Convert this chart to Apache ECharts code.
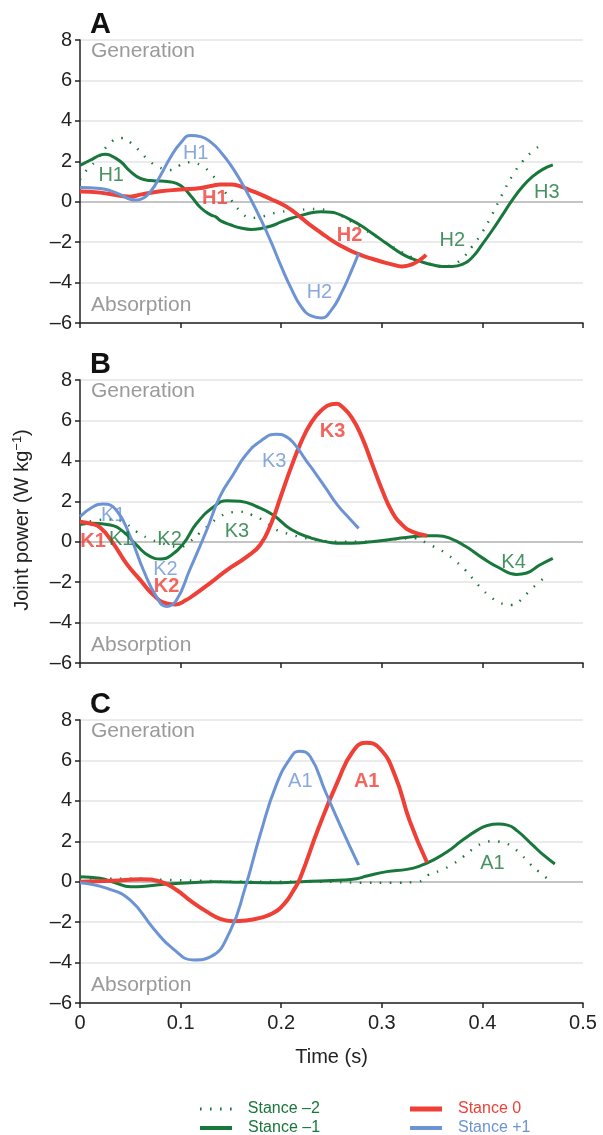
<!DOCTYPE html>
<html>
<head>
<meta charset="utf-8">
<script src="https://cdn.jsdelivr.net/npm/echarts@6/dist/echarts.min.js"></script>
<style>html,body{margin:0;padding:0;background:#fff}#c{width:603px;height:1135px}</style>
</head>
<body>
<div id="c"></div>
<script>
// ---- Data (time s, joint power W/kg) ----
const seriesNames = ['Stance \u20132', 'Stance \u20131', 'Stance 0', 'Stance +1'];
const yTicks = [-6, -4, -2, 0, 2, 4, 6, 8];
const xTicks = [0, 0.1, 0.2, 0.3, 0.4, 0.5];

// Panel A (hip)
const hipM2 = [[0,1.1],[0.0067,1.57],[0.015,1.98],[0.0315,2.97],[0.041,3.15],[0.051,2.9],[0.06,2.47],[0.068,2.06],[0.078,1.72],[0.089,1.57],[0.099,1.8],[0.11,1.95],[0.12,1.8],[0.13,1.4],[0.14,0.75],[0.15,0.1],[0.16,-0.5],[0.17,-0.8],[0.18,-0.75],[0.19,-0.6],[0.2,-0.5],[0.21,-0.45],[0.22,-0.4],[0.23,-0.36],[0.24,-0.38],[0.25,-0.48],[0.26,-0.7],[0.27,-1.0],[0.28,-1.3],[0.29,-1.6],[0.3,-1.9],[0.31,-2.2],[0.32,-2.5],[0.33,-2.75],[0.34,-2.95],[0.35,-3.1],[0.36,-3.2],[0.37,-3.12],[0.38,-2.8],[0.39,-2.2],[0.4,-1.5],[0.41,-0.6],[0.42,0.4],[0.43,1.3],[0.44,2.0],[0.45,2.5],[0.458,2.8]];
const hipM1 = [[0,1.8],[0.01,2.05],[0.02,2.3],[0.025,2.35],[0.03,2.3],[0.04,2.0],[0.05,1.5],[0.06,1.15],[0.07,1.05],[0.08,1.02],[0.09,0.98],[0.1,0.8],[0.11,0.3],[0.12,-0.3],[0.13,-0.65],[0.135,-0.75],[0.14,-0.95],[0.15,-1.15],[0.16,-1.3],[0.17,-1.37],[0.18,-1.32],[0.19,-1.2],[0.2,-1.0],[0.21,-0.82],[0.22,-0.68],[0.23,-0.55],[0.24,-0.5],[0.25,-0.52],[0.26,-0.68],[0.27,-0.92],[0.28,-1.2],[0.29,-1.55],[0.3,-1.9],[0.31,-2.25],[0.32,-2.58],[0.33,-2.82],[0.34,-2.98],[0.35,-3.12],[0.36,-3.2],[0.37,-3.2],[0.38,-3.1],[0.39,-2.75],[0.4,-2.1],[0.41,-1.4],[0.42,-0.65],[0.43,0.1],[0.44,0.75],[0.45,1.25],[0.46,1.6],[0.47,1.82]];
const hip0 = [[0,0.5],[0.02,0.45],[0.04,0.3],[0.05,0.25],[0.06,0.35],[0.08,0.52],[0.1,0.6],[0.12,0.68],[0.13,0.78],[0.14,0.85],[0.15,0.85],[0.16,0.75],[0.17,0.55],[0.18,0.35],[0.19,0.12],[0.2,-0.1],[0.21,-0.4],[0.22,-0.8],[0.23,-1.2],[0.24,-1.55],[0.25,-1.9],[0.26,-2.2],[0.27,-2.45],[0.28,-2.65],[0.29,-2.82],[0.3,-2.97],[0.31,-3.1],[0.32,-3.2],[0.33,-3.1],[0.34,-2.8],[0.344,-2.62]];
const hipP1 = [[0,0.7],[0.02,0.65],[0.03,0.55],[0.04,0.35],[0.05,0.12],[0.055,0.08],[0.06,0.12],[0.07,0.5],[0.08,1.3],[0.09,2.2],[0.1,2.9],[0.11,3.28],[0.12,3.22],[0.13,2.95],[0.14,2.45],[0.15,1.8],[0.16,1.0],[0.17,0.1],[0.18,-0.9],[0.19,-2.0],[0.2,-3.2],[0.21,-4.3],[0.22,-5.2],[0.23,-5.65],[0.24,-5.75],[0.25,-5.35],[0.26,-4.5],[0.27,-3.4],[0.277,-2.55]];

// Panel B (knee)
const kneeM2 = [[0,0.9],[0.015,1.05],[0.03,1.1],[0.04,1.05],[0.046,0.9],[0.056,0.5],[0.068,0.17],[0.08,-0.05],[0.09,-0.2],[0.099,-0.25],[0.109,0],[0.119,0.43],[0.13,0.9],[0.139,1.24],[0.15,1.45],[0.159,1.48],[0.171,1.32],[0.184,0.99],[0.192,0.68],[0.2,0.5],[0.21,0.35],[0.22,0.22],[0.23,0.12],[0.24,0.05],[0.26,0.0],[0.28,0.0],[0.3,0.05],[0.32,0.15],[0.333,0.17],[0.345,-0.08],[0.355,-0.33],[0.364,-0.58],[0.374,-0.99],[0.383,-1.4],[0.391,-1.86],[0.399,-2.31],[0.408,-2.72],[0.417,-3.02],[0.429,-3.13],[0.439,-2.85],[0.447,-2.42],[0.457,-1.98],[0.466,-1.57]];
const kneeM1 = [[0,0.85],[0.013,0.91],[0.03,0.83],[0.043,0.5],[0.056,-0.16],[0.07,-0.74],[0.08,-0.85],[0.091,-0.66],[0.103,-0.08],[0.116,0.91],[0.133,1.73],[0.146,2.03],[0.159,2.0],[0.176,1.73],[0.192,1.32],[0.21,0.6],[0.23,0.18],[0.25,-0.05],[0.26,-0.08],[0.27,-0.08],[0.29,0.0],[0.31,0.12],[0.33,0.25],[0.345,0.3],[0.355,0.3],[0.368,0.17],[0.384,-0.25],[0.4,-0.8],[0.417,-1.3],[0.434,-1.62],[0.444,-1.55],[0.457,-1.15],[0.47,-0.82]];
const knee0 = [[0,0.99],[0.01,0.9],[0.02,0.7],[0.033,-0.08],[0.046,-1.07],[0.06,-1.9],[0.073,-2.64],[0.086,-3.05],[0.095,-3.1],[0.105,-2.9],[0.113,-2.64],[0.129,-2.06],[0.146,-1.4],[0.166,-0.74],[0.179,-0.16],[0.19,0.9],[0.2,2.3],[0.21,3.7],[0.22,4.95],[0.23,5.9],[0.24,6.5],[0.25,6.8],[0.255,6.82],[0.26,6.7],[0.27,6.15],[0.28,5.2],[0.29,3.9],[0.3,2.6],[0.31,1.5],[0.32,0.85],[0.33,0.5],[0.345,0.3]];
const kneeP1 = [[0,1.24],[0.013,1.73],[0.023,1.86],[0.036,1.57],[0.05,0.25],[0.063,-1.4],[0.076,-2.72],[0.086,-3.2],[0.096,-2.88],[0.109,-1.4],[0.126,0.58],[0.139,2.23],[0.152,3.3],[0.165,4.3],[0.18,5.0],[0.195,5.32],[0.205,5.2],[0.214,4.78],[0.225,4.0],[0.233,3.46],[0.245,2.6],[0.256,1.81],[0.267,1.2],[0.277,0.66]];

// Panel C (ankle)
const ankleM2 = [[0,0.2],[0.02,0.15],[0.05,0.15],[0.08,0.1],[0.12,0.05],[0.16,0.0],[0.2,0.0],[0.24,0.0],[0.28,-0.05],[0.31,-0.05],[0.336,0.0],[0.346,0.33],[0.358,0.55],[0.37,0.85],[0.381,1.24],[0.39,1.6],[0.4,1.9],[0.41,2.0],[0.42,1.95],[0.43,1.7],[0.439,1.32],[0.447,0.9],[0.456,0.5],[0.466,0.1]];
const ankleM1 = [[0,0.25],[0.02,0.17],[0.035,-0.05],[0.05,-0.25],[0.065,-0.22],[0.083,-0.12],[0.11,-0.05],[0.133,0],[0.16,-0.03],[0.2,-0.05],[0.22,0],[0.262,0.08],[0.275,0.15],[0.285,0.28],[0.305,0.5],[0.325,0.61],[0.338,0.78],[0.351,1.07],[0.365,1.48],[0.38,2.05],[0.395,2.55],[0.405,2.78],[0.416,2.85],[0.425,2.8],[0.435,2.5],[0.45,1.81],[0.46,1.35],[0.472,0.88]];
const ankle0 = [[0,0],[0.033,0.05],[0.06,0.12],[0.08,0.0],[0.096,-0.41],[0.11,-0.95],[0.126,-1.48],[0.14,-1.85],[0.152,-1.95],[0.165,-1.92],[0.18,-1.78],[0.192,-1.55],[0.203,-1.1],[0.212,-0.45],[0.219,0.2],[0.237,2.64],[0.256,4.94],[0.271,6.43],[0.284,6.87],[0.298,6.59],[0.313,5.27],[0.328,2.97],[0.345,0.95]];
const ankleP1 = [[0,-0.05],[0.027,-0.33],[0.05,-0.91],[0.073,-2.31],[0.092,-3.3],[0.113,-3.87],[0.13,-3.71],[0.149,-2.47],[0.164,-0.33],[0.179,2.31],[0.195,4.78],[0.21,6.18],[0.218,6.46],[0.229,6.18],[0.244,4.45],[0.26,2.64],[0.277,0.82]];

// Curve labels: [t, y, text, stance index]
const labelsA = [[0.031,1.3,'H1',1],[0.115,2.4,'H1',3],[0.134,0.16,'H1',2],[0.268,-1.65,'H2',2],[0.238,-4.5,'H2',3],[0.37,-1.9,'H2',1],[0.464,0.46,'H3',1]];
const labelsB = [[0.013,0.0,'K1',2],[0.041,0.1,'K1',1],[0.033,1.3,'K1',3],[0.089,0.12,'K2',1],[0.085,-1.35,'K2',3],[0.086,-2.2,'K2',2],[0.156,0.5,'K3',1],[0.193,3.95,'K3',3],[0.251,5.44,'K3',2],[0.431,-1.04,'K4',1]];
const labelsC = [[0.219,4.94,'A1',3],[0.285,4.94,'A1',2],[0.41,0.91,'A1',1]];

const panelLetters = ['A', 'B', 'C'];
const panelData = [[hipM2, hipM1, hip0, hipP1], [kneeM2, kneeM1, knee0, kneeP1], [ankleM2, ankleM1, ankle0, ankleP1]];
const panelLabels = [labelsA, labelsB, labelsC];

// ---- Styles ----
const GREEN = '#18773a', RED = '#ef4037', BLUE = '#6c93d4', GREY = '#9a9a9a';
const colors = [GREEN, GREEN, RED, BLUE];
const widths = [2.4, 3, 4, 3];
const FONT = 'Liberation Sans, Arial, sans-serif';
const gridTops = [40, 380, 720];
const gridH = 283;

const grids = [], xAxes = [], yAxes = [], series = [], graphics = [];
const minus = v => (v < 0 ? '\u2013' + Math.abs(v) : String(v));

for (let p = 0; p < 3; p++) {
  grids.push({ left: 80, top: gridTops[p], width: 503, height: gridH });
  xAxes.push({
    type: 'value', gridIndex: p, min: 0, max: 0.5, interval: 0.1,
    axisLine: { show: true, onZero: false, lineStyle: { color: '#222', width: 1.5 } },
    axisTick: { show: true, length: 5, lineStyle: { color: '#222', width: 1.5 } },
    splitLine: { show: false },
    axisLabel: { show: p === 2, color: '#222', fontSize: 20, fontFamily: FONT, margin: 10, showMaxLabel: true },
    name: p === 2 ? 'Time (s)' : '', nameLocation: 'middle', nameGap: 44,
    nameTextStyle: { color: '#222', fontSize: 20, fontFamily: FONT }
  });
  yAxes.push({
    type: 'value', gridIndex: p, min: -6, max: 8, interval: 2,
    axisLine: { show: true, lineStyle: { color: '#222', width: 1.5 } },
    axisTick: { show: true, length: 5, lineStyle: { color: '#222', width: 1.5 } },
    splitLine: { show: true, lineStyle: { color: yTicks.map(v => v === 0 ? '#b0b0b0' : '#e4e4e4'), width: 1.5 } },
    axisLabel: { color: '#222', fontSize: 20, fontFamily: FONT, margin: 8, formatter: minus }
  });
  for (let s = 0; s < 4; s++) {
    series.push({
      name: seriesNames[s], type: 'line', xAxisIndex: p, yAxisIndex: p,
      data: panelData[p][s], smooth: 0.5, symbol: 'none', showSymbol: false,
      color: colors[s], z: 2 + s,
      lineStyle: { color: colors[s], width: widths[s], type: s === 0 ? [1.5, 8.5] : 'solid', cap: 'butt' }
    });
  }
  series.push({
    type: 'scatter', xAxisIndex: p, yAxisIndex: p, symbolSize: 0, z: 10, silent: true,
    data: panelLabels[p].map(d => ({
      value: [d[0], d[1]],
      label: { show: true, position: 'inside', formatter: d[2], color: colors[d[3]],
        fontSize: 20, fontFamily: FONT, fontWeight: d[3] === 2 ? 'bold' : 'normal' }
    }))
  });
  graphics.push({ type: 'text', left: 90, top: gridTops[p] - 30,
    style: { text: panelLetters[p], font: 'bold 29px ' + FONT, fill: '#111' } });
  graphics.push({ type: 'text', left: 91, top: gridTops[p] + 1,
    style: { text: 'Generation', font: '21px ' + FONT, fill: GREY } });
  graphics.push({ type: 'text', left: 91, top: gridTops[p] + 255,
    style: { text: 'Absorption', font: '21px ' + FONT, fill: GREY } });
}

graphics.push({
  type: 'text', x: 22, y: 520, rotation: Math.PI / 2,
  style: {
    text: '{a|Joint power (W kg}{s|\u22121}{a|)}', align: 'center', verticalAlign: 'middle',
    rich: { a: { fontSize: 20, fontFamily: FONT, fill: '#222', color: '#222' },
            s: { fontSize: 13, fontFamily: FONT, fill: '#222', color: '#222', verticalAlign: 'top', padding: [0, 0, 10, 0] } }
  }
});

// Legend: one component per entry so each can be placed and styled on its own
const legendPos = [[200, 1101], [200, 1120], [410, 1101], [410, 1120]];
const legendIcons = [
  'path://M0,0h1.6v3h-1.6z M10,0h1.6v3h-1.6z M20,0h1.6v3h-1.6z M30,0h1.6v3h-1.6z',
  'rect', 'rect', 'rect'
];
const legendIconH = [3, 4, 5, 4];
const legends = seriesNames.map((n, s) => ({
  left: legendPos[s][0], top: legendPos[s][1], padding: 0, selectedMode: false,
  itemWidth: 32, itemHeight: legendIconH[s], icon: legendIcons[s],
  data: [{ name: n, icon: legendIcons[s], itemStyle: { color: colors[s] }, textStyle: { color: colors[s] } }],
  textStyle: { fontSize: 16, fontFamily: FONT, padding: [0, 0, 0, 11], color: colors[s] }
}));

const option = {
  animation: false,
  backgroundColor: '#fff',
  grid: grids, xAxis: xAxes, yAxis: yAxes, series: series,
  legend: legends,
  graphic: graphics
};
const chart = echarts.init(document.getElementById('c'), null, { renderer: 'canvas' });
chart.setOption(option);
</script>
</body>
</html>
